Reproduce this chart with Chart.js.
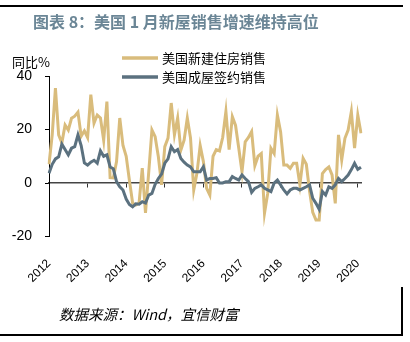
<!DOCTYPE html>
<html lang="zh">
<head>
<meta charset="UTF-8">
<title>图表 8：美国 1 月新屋销售增速维持高位</title>
<script src="https://cdn.jsdelivr.net/npm/chart.js"></script>
<style>
    html, body {
        margin: 0;
        padding: 0;
        background: #fff;
    }
    #wrap {
        width: 410px;
        height: 342px;
        position: relative;
    }
</style>
</head>
<body>
<div id="wrap"><canvas id="chart"></canvas></div>
<script>
// tick labels on the x axis (one per January)
const years = ['2012', '2013', '2014', '2015', '2016', '2017', '2018', '2019', '2020'];
const seriesNames = ['美国新建住房销售', '美国成屋签约销售'];
const yTicks = [-20, 0, 20, 40];

// monthly values, Jan 2012 onward (yoy %)
const newHomeSales = [
    7, 18, 35.5, 18, 15, 21.7, 19.8, 24.2, 25, 26.5, 17.5, 19.5,
    17, 33, 22.4, 25.4, 24.3, 16, 30.4, 2, 1.9, 8, 24.3, 14,
    10, 1, -7.5, -8.2, -7.5, 5.6, -11.2, 4, 19.8, 17.3, 9.8, -0.7,
    13.6, 16.8, 29.9, 18, 24.3, 12.3, 16, 24.3, 16.8, -2.6, 3.7, 14,
    8, -2, -4.5, 10, 12.5, 12, 17, 26.7, 12.5, 24.8, 21.5, 13,
    4.2, 15.4, 17, 19.2, 6.5, 10, 11, -11.3, -3.9, 13, 11, 25.4,
    19.2, 6.7, 6.7, 5.5, 7.4, 7.4, -0.7, 9.2, 7, -3, -11, -13.8,
    -13.8, 3.5, 5, 6, 3, -7.6, 18, 8.6, 16.7, 19.8, 26.7, 13,
    25.4, 18.6
];
const pendingHomeSales = [
    3.6, 7, 9, 9.8, 14.5, 12.5, 10.5, 13, 13.6, 18, 14, 7.5,
    6.7, 7.8, 8.5, 7.4, 12, 10, 10.5, 6, 5.3, 0.5, -1.4, -2.6,
    -6, -8, -8.9, -7.8, -7.9, -7, -7.5, -4.5, -3.9, -0.5, 1.7, 3.3,
    7.4, 9, 13.6, 11.7, 12.5, 9.2, 7.8, 6.7, 6, 4.2, 4.2, 4.2,
    6.1, 1.1, 1.7, 1.7, 2, 0, 0, 0.5, 0.5, 2.4, 1.7, 1.1,
    3, 1.7, 0.5, -3.5, -2, -1.4, -0.7, -2, -2.6, -3.2, 0, 1.1,
    -0.7, -2.6, -4.1, -2.6, -2, -2, -2.6, -2, -1.4, -0.7, -5.7, -7.6,
    -9.8, -3.2, -4.5, -1.4, -2, -0.7, 1.7, 0.5, 1.7, 3, 5, 7.4,
    5.1, 5.9
];

const colors = ['#D9BC7C', '#5B717F'];

// month labels built from the year list
const months = [];
years.forEach(y => {
    for (let m = 1; m <= 12; m++) months.push(y + '-' + m);
});
months.length = newHomeSales.length;

const cjk = '"Noto Sans CJK SC", "Noto Sans", sans-serif';
const latin = '"Liberation Sans", Arial, sans-serif';

// title, unit, legend, source note and frame lines
const decor = {
    id: 'decor',
    afterDraw(chart) {
        const c = chart.ctx;
        c.save();

        c.strokeStyle = '#000';
        c.lineWidth = 2;
        c.beginPath();
        c.moveTo(0, 6); c.lineTo(403, 6);
        c.moveTo(0, 335); c.lineTo(403, 335);
        c.moveTo(402, 287); c.lineTo(402, 336);
        c.stroke();

        c.fillStyle = '#6B8696';
        c.font = 'bold 16px ' + cjk;
        c.textBaseline = 'middle';
        c.textAlign = 'left';
        c.fillText('图表 8：美国 1 月新屋销售增速维持高位', 33, 22);

        c.fillStyle = '#000';
        c.font = '13px ' + cjk;
        c.fillText('同比%', 12, 62);

        chart.data.datasets.forEach((ds, i) => {
            const y = 58 + i * 19;
            c.strokeStyle = ds.borderColor;
            c.lineWidth = 3.5;
            c.beginPath();
            c.moveTo(122, y); c.lineTo(158, y);
            c.stroke();
            c.fillStyle = '#000';
            c.font = '13px ' + cjk;
            c.fillText(ds.label, 162, y);
        });

        c.font = 'italic 14.5px ' + cjk;
        c.fillText('数据来源：Wind，宜信财富', 59, 314);
        c.restore();
    }
};

new Chart(document.getElementById('chart'), {
    type: 'line',
    data: {
        labels: months,
        datasets: [
            {
                label: seriesNames[0],
                data: newHomeSales,
                borderColor: colors[0],
                borderWidth: 3,
                pointRadius: 0,
                tension: 0,
                order: 1
            },
            {
                label: seriesNames[1],
                data: pendingHomeSales,
                borderColor: colors[1],
                borderWidth: 3,
                pointRadius: 0,
                tension: 0,
                order: 0
            }
        ]
    },
    options: {
        responsive: true,
        maintainAspectRatio: false,
        animation: false,
        layout: { padding: { left: 0, top: 76, right: 49, bottom: 0 } },
        plugins: {
            legend: { display: false },
            tooltip: { enabled: false }
        },
        scales: {
            x: {
                type: 'category',
                position: { y: 0 },
                ticks: { display: false },
                grid: {
                    drawOnChartArea: false,
                    drawTicks: true,
                    tickLength: 4,
                    color: ctx => (ctx.index % 12 === 0 ? '#333' : 'rgba(0,0,0,0)')
                },
                border: { display: true, color: '#444', width: 1.5 }
            },
            x2: {
                type: 'category',
                labels: months,
                position: 'bottom',
                grid: { display: false },
                border: { display: false },
                afterFit: s => { s.height = 342 - 236.5; },
                ticks: {
                    autoSkip: false,
                    maxRotation: 45,
                    minRotation: 45,
                    padding: 12,
                    color: '#000',
                    font: { family: latin, size: 12 },
                    callback: (v, i) => (i % 12 === 0 ? years[i / 12] : null)
                }
            },
            y: {
                min: yTicks[0],
                max: yTicks[yTicks.length - 1],
                afterFit: s => { s.width = 49; },
                afterBuildTicks: s => { s.ticks = yTicks.map(v => ({ value: v })); },
                ticks: {
                    padding: 13,
                    color: '#000',
                    font: { family: latin, size: 14 },
                    callback: v => String(v)
                },
                grid: {
                    drawOnChartArea: false,
                    drawTicks: true,
                    tickLength: 4,
                    color: '#000'
                },
                border: { display: true, color: '#000', width: 1 }
            }
        }
    },
    plugins: [decor]
});
</script>
</body>
</html>
